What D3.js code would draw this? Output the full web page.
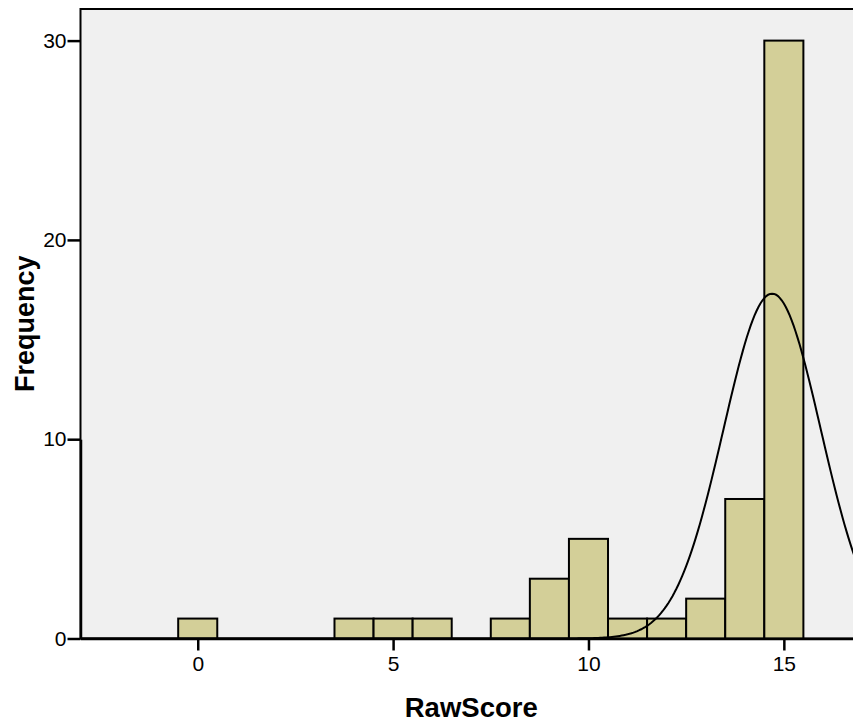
<!DOCTYPE html>
<html>
<head>
<meta charset="utf-8">
<script src="https://cdn.jsdelivr.net/npm/d3@7"></script>
<style>
  html, body { margin: 0; padding: 0; background: #fff; overflow: hidden; }
  text { font-family: "Liberation Sans", Arial, sans-serif; }
</style>
</head>
<body>
<div id="chart"></div>
<script>
// histogram bins (bin center, count)
const binCenters = [0, 4, 5, 6, 8, 9, 10, 11, 12, 13, 14, 15];
const binCounts  = [1, 1, 1, 1, 1, 3, 5, 1, 1, 2, 7, 30];
const xTicks = [0, 5, 10, 15];
const yTicks = [0, 10, 20, 30];
// normal curve parameters
const curveMean = 14.7;
const curveSd = 1.245;
const curveN = 54;

const width = 853, height = 726;
const plotLeft = 80.5, plotTop = 9, plotBottom = 638.5, plotRight = 862;

const svg = d3.select("#chart").append("svg")
  .attr("width", width)
  .attr("height", height);

const x = d3.scaleLinear().domain([-3, 17]).range([plotLeft, plotRight]);
const y = d3.scaleLinear().domain([0, 10]).range([plotBottom, plotBottom - 199.3]);

// plot background
svg.append("rect")
  .attr("x", plotLeft).attr("y", plotTop)
  .attr("width", plotRight - plotLeft).attr("height", plotBottom - plotTop)
  .attr("fill", "#f0f0f0")
  .attr("stroke", "#000").attr("stroke-width", 2);

// bars
svg.selectAll("rect.bar")
  .data(binCenters.map((c, i) => ({ c, n: binCounts[i] })))
  .enter().append("rect")
  .attr("class", "bar")
  .attr("x", d => x(d.c - 0.5))
  .attr("y", d => y(d.n))
  .attr("width", d => x(d.c + 0.5) - x(d.c - 0.5))
  .attr("height", d => y(0) - y(d.n))
  .attr("fill", "#d3cf98")
  .attr("stroke", "#000")
  .attr("stroke-width", 2);

// normal curve
const pts = d3.range(-3, 17.01, 0.05).map(v => {
  const z = (v - curveMean) / curveSd;
  return [v, curveN * Math.exp(-0.5 * z * z) / (curveSd * Math.sqrt(2 * Math.PI))];
});
svg.append("path")
  .datum(pts)
  .attr("fill", "none")
  .attr("stroke", "#000")
  .attr("stroke-width", 2)
  .attr("d", d3.line().x(d => x(d[0])).y(d => y(d[1])));

// axes
const xAxis = svg.append("g")
  .attr("transform", `translate(0,${plotBottom})`)
  .call(d3.axisBottom(x).tickValues(xTicks).tickSizeInner(12).tickSizeOuter(0).tickPadding(6));
const yAxis = svg.append("g")
  .attr("transform", `translate(${plotLeft},0)`)
  .call(d3.axisLeft(y).tickValues(yTicks).tickSizeInner(13).tickSizeOuter(0).tickPadding(1));

[xAxis, yAxis].forEach(a => {
  a.attr("font-size", 21).attr("font-family", "Liberation Sans, Arial, sans-serif");
  a.select(".domain").attr("stroke", "#000").attr("stroke-width", 2.5);
  a.selectAll(".tick line").attr("stroke", "#000").attr("stroke-width", 2.5);
  a.selectAll(".tick text")
    .attr("fill", "#000")
    .attr("font-size", 21);
});

// titles
svg.append("text")
  .attr("x", (plotLeft + plotRight) / 2)
  .attr("y", 717)
  .attr("text-anchor", "middle")
  .style("font-size", "27.5px")
  .style("font-weight", "bold")
  .text("RawScore");

svg.append("text")
  .attr("transform", `translate(34,${(plotTop + plotBottom) / 2}) rotate(-90)`)
  .attr("text-anchor", "middle")
  .style("font-size", "27px")
  .style("font-weight", "bold")
  .text("Frequency");
</script>
</body>
</html>
